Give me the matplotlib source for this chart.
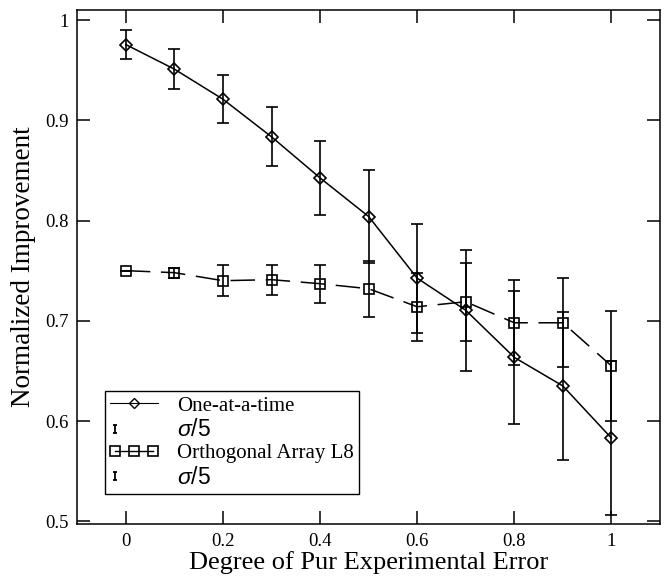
import numpy as np
import matplotlib
matplotlib.use("Agg")
import matplotlib.pyplot as plt
from matplotlib.lines import Line2D
from matplotlib.path import Path
from matplotlib.legend_handler import HandlerLine2D
from matplotlib.ticker import FuncFormatter

# ------------------------------------------------------------
# style
# ------------------------------------------------------------
plt.rcParams.update({
    "font.family": "Liberation Serif",
    "mathtext.fontset": "custom",
    "mathtext.it": "Liberation Sans:italic",
    "mathtext.rm": "Liberation Sans",
    "axes.linewidth": 1.1,
})

# ------------------------------------------------------------
# data
# ------------------------------------------------------------
degree = [0.0, 0.1, 0.2, 0.3, 0.4, 0.5, 0.6, 0.7, 0.8, 0.9, 1.0]

one_at_a_time = [0.9755, 0.951, 0.921, 0.8835, 0.8425, 0.804, 0.7425, 0.7105, 0.6635, 0.635, 0.583]
one_err = [0.0145, 0.020, 0.024, 0.0295, 0.0365, 0.046, 0.0545, 0.0605, 0.0665, 0.074, 0.077]

orth_array = [0.750, 0.748, 0.740, 0.741, 0.737, 0.732, 0.714, 0.719, 0.698, 0.698, 0.655]
orth_err = [0.0, 0.005, 0.0155, 0.015, 0.019, 0.028, 0.034, 0.039, 0.0425, 0.0445, 0.055]

x_ticks = [0, 0.2, 0.4, 0.6, 0.8, 1.0]
y_ticks = [0.5, 0.6, 0.7, 0.8, 0.9, 1.0]


class HandlerLeftMarker(HandlerLine2D):
    # single marker at the left end of the handle box
    def __init__(self):
        super().__init__(numpoints=2)

    def get_xdata(self, legend, xdescent, ydescent, width, height, fontsize):
        x0 = -xdescent + 0.25 * fontsize
        return np.array([x0]), np.array([x0])


# ------------------------------------------------------------
# figure
# ------------------------------------------------------------
fig = plt.figure(figsize=(6.68, 5.78), dpi=100)
ax = fig.add_axes([0.1157, 0.0929, 0.8723, 0.8898])

ax.errorbar(degree, one_at_a_time, yerr=one_err, color="black", lw=1.1,
            marker="D", ms=6.5, mfc="none", mec="black", mew=1.2,
            ecolor="black", elinewidth=1.2, capsize=4, capthick=1.2, zorder=3)

ax.errorbar(degree, orth_array, yerr=orth_err, color="black", lw=1.1,
            dashes=(16, 7), marker="s", ms=7.5, mfc="none", mec="black", mew=1.2,
            ecolor="black", elinewidth=1.2, capsize=4, capthick=1.2, zorder=3)

# ------------------------------------------------------------
# axes formatting
# ------------------------------------------------------------
ax.set_xlim(-0.1, 1.1)
ax.set_ylim(0.497, 1.01)
ax.set_xticks(x_ticks)
ax.set_yticks(y_ticks)
fmt = FuncFormatter(lambda v, p: f"{v:g}")
ax.xaxis.set_major_formatter(fmt)
ax.yaxis.set_major_formatter(fmt)
ax.tick_params(direction="in", top=True, right=True, length=9.5, width=1.1,
               labelsize=13.5, pad=6)

ax.set_xlabel("Degree of Pur Experimental Error", fontsize=19, labelpad=1)
ax.set_ylabel("Normalized Improvement", fontsize=19.5, labelpad=7)

# ------------------------------------------------------------
# legend
# ------------------------------------------------------------
ibar = Path([(-0.5, -1), (0.5, -1), (0, -1), (0, 1), (-0.5, 1), (0.5, 1)],
            [Path.MOVETO, Path.LINETO, Path.MOVETO, Path.LINETO, Path.MOVETO, Path.LINETO])

h_one = Line2D([], [], color="black", lw=0.8, marker="D", ms=5,
               mfc="none", mec="black", mew=1.0)
h_sig1 = Line2D([], [], ls="none", marker=ibar, ms=6, mfc="none",
                mec="black", mew=1.3)
h_oa = Line2D([], [], color="black", lw=1.0, marker="s", ms=7.5,
              mfc="none", mec="black", mew=1.2)
h_sig2 = Line2D([], [], ls="none", marker=ibar, ms=6, mfc="none",
                mec="black", mew=1.3)

leg = ax.legend(
    [h_one, h_sig1, h_oa, h_sig2],
    ["One-at-a-time", r"$\sigma$/5", "Orthogonal Array L8", r"$\sigma$/5"],
    handler_map={h_sig1: HandlerLeftMarker(),
                 h_sig2: HandlerLeftMarker(),
                 h_oa: HandlerLine2D(numpoints=3, marker_pad=0.25)},
    loc="lower left", bbox_to_anchor=(0.0475, 0.059), borderaxespad=0,
    fontsize=15, numpoints=1, handlelength=2.3, handletextpad=0.9,
    labelspacing=0.12, borderpad=0.25, fancybox=False, framealpha=1,
    edgecolor="black",
)
leg.get_frame().set_linewidth(1.0)
for i in (1, 3):
    leg.get_texts()[i].set_fontfamily("Liberation Sans")
    leg.get_texts()[i].set_fontsize(16.5)

fig.savefig("out.png", dpi=100, facecolor="white")
